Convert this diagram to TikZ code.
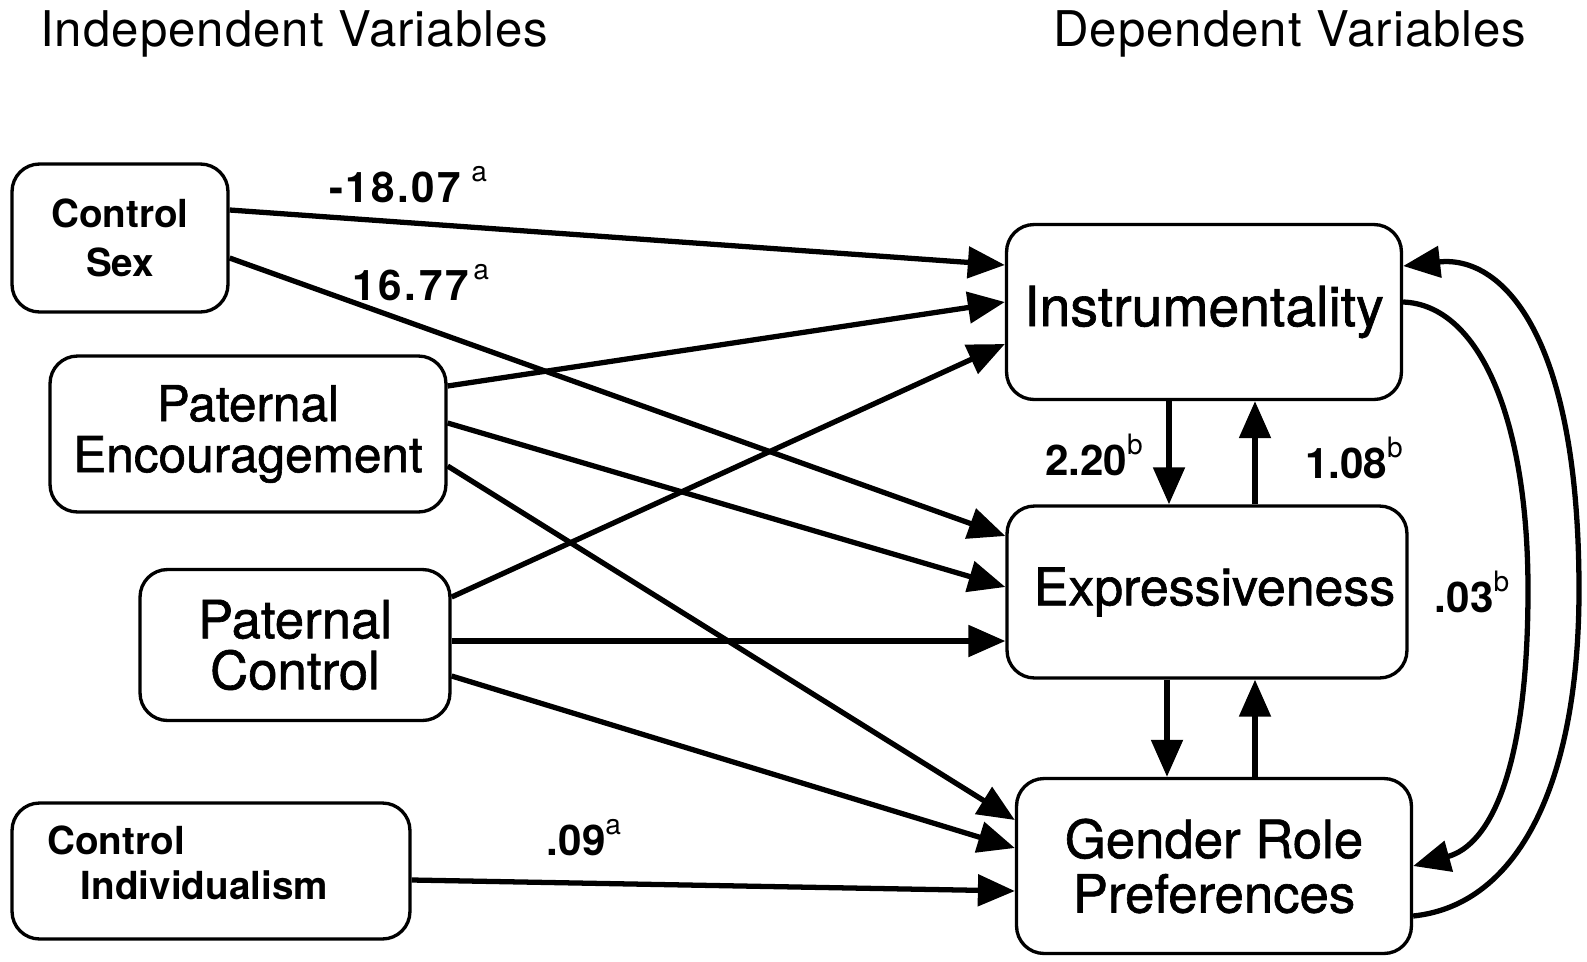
\documentclass[tikz,border=0pt]{standalone}
\usepackage{fontspec}
\setmainfont{TeX Gyre Heros}
\newfontfamily\heavyfont[FakeBold=1.2]{TeX Gyre Heros}
\newfontfamily\spacedfont[LetterSpace=2]{TeX Gyre Heros}
\usetikzlibrary{arrows.meta}
\newcommand\supx[1]{\raisebox{0.5em}{\fontsize{16}{16}\selectfont\mdseries #1}}
\begin{document}
\begin{tikzpicture}[x=0.02cm,y=-0.02cm,
  box/.style={draw, line width=1.9pt, rounded corners=0.55cm, inner sep=0pt, align=center},
  big/.style={font=\heavyfont\fontsize{30}{29}\selectfont},
  small/.style={font=\fontsize{22}{27.5}\selectfont\bfseries},
  num/.style={font=\fontsize{24}{24}\selectfont\bfseries, inner sep=0pt},
  head/.style={font=\spacedfont\fontsize{28}{28}\selectfont, inner sep=0pt, anchor=base west},
  arr/.style={line width=3pt, -{Triangle[length=0.74cm,width=0.62cm]}}]
\useasboundingbox (0,0) rectangle (1587,961);

% headers
\node[head] (hind) at (40,46) {Independent Variables};
\node[head] (hdep) at (1053,46) {Dependent Variables};

% independent boxes
\node[box, small, minimum width=4.32cm, minimum height=2.96cm] (cs) at (120,238) {Control\\Sex};
\node[box, big, font=\heavyfont\fontsize{28.2}{29}\selectfont, minimum width=7.92cm, minimum height=3.12cm] (pe) at (248,434) {Paternal\\Encouragement};
\node[box, big, minimum width=6.2cm, minimum height=3.02cm] (pc) at (295,645) {Paternal\\Control};
\node[box, minimum width=7.96cm, minimum height=2.72cm] (ci) at (211,871) {};
\node[align=left, anchor=west, inner sep=0pt, font=\fontsize{22}{25.8}\selectfont\bfseries] (citext) at (47,863) {Control\\\hspace{0.67cm}Individualism};

% dependent boxes
\node[box, big, font=\heavyfont\fontsize{31.5}{29}\selectfont, minimum width=7.9cm, minimum height=3.5cm] (instr) at (1204,312) {Instrumentality};
\node[box, big, font=\heavyfont\fontsize{29.5}{29}\selectfont, minimum width=8.0cm, minimum height=3.44cm] (expr) at (1207,592) {\hspace{0.3cm}Expressiveness};
\node[box, big, font=\heavyfont\fontsize{30}{31}\selectfont, minimum width=7.9cm, minimum height=3.5cm] (grp) at (1214,866) {Gender Role\\Preferences};

% paths from independent variables
\draw[arr] (cs.east |- 0,210) -- (instr.west |- 0,265);
\draw[arr] (cs.east |- 0,258) -- (expr.west |- 0,536);
\draw[arr] (pe.east |- 0,386) -- (instr.west |- 0,302);
\draw[arr] (pe.east |- 0,423) -- (expr.west |- 0,587);
\draw[arr] (pe.east |- 0,466) -- (grp.west |- 0,820);
\draw[arr] (pc.east |- 0,597) -- (instr.west |- 0,344);
\draw[arr] (pc.east |- 0,641) -- (expr.west |- 0,641);
\draw[arr] (pc.east |- 0,676) -- (grp.west |- 0,848);
\draw[arr] (ci.east |- 0,880) -- (grp.west |- 0,891);

% reciprocal paths
\draw[arr] (instr.south -| 1169,0) -- (expr.north -| 1169,0);
\draw[arr] (expr.north -| 1255,0) -- (instr.south -| 1255,0);
\draw[arr] (expr.south -| 1167,0) -- (grp.north -| 1167,0);
\draw[arr] (grp.north -| 1255,0) -- (expr.south -| 1255,0);

% curved paths
\draw[arr] (instr.east |- 0,302) .. controls (1480,305) and (1528,420) .. (1528,590)
   .. controls (1528,770) and (1490,845) .. (grp.east |- 0,866);
\draw[arr] (grp.east |- 0,916) .. controls (1520,905) and (1579,780) .. (1579,590)
   .. controls (1579,330) and (1500,255) .. (instr.east |- 0,266);

% coefficients
\node[num, font=\fontsize{24}{24}\selectfont\bfseries\addfontfeatures{LetterSpace=6}] (l1) at (408,185) {-18.07\hspace{0.2cm}\supx{a}};
\node[num, font=\fontsize{24}{24}\selectfont\bfseries\addfontfeatures{LetterSpace=6}] (l2) at (421,283) {16.77\hspace{0.1cm}\supx{a}};
\node[num] (l3) at (1094,455) {2.20\supx{b}};
\node[num] (l4) at (1354,458) {1.08\supx{b}};
\node[num] (l5) at (1472,592) {.03\supx{b}};
\node[num] (l6) at (584,838) {.09\supx{a}};
\end{tikzpicture}
\end{document}
